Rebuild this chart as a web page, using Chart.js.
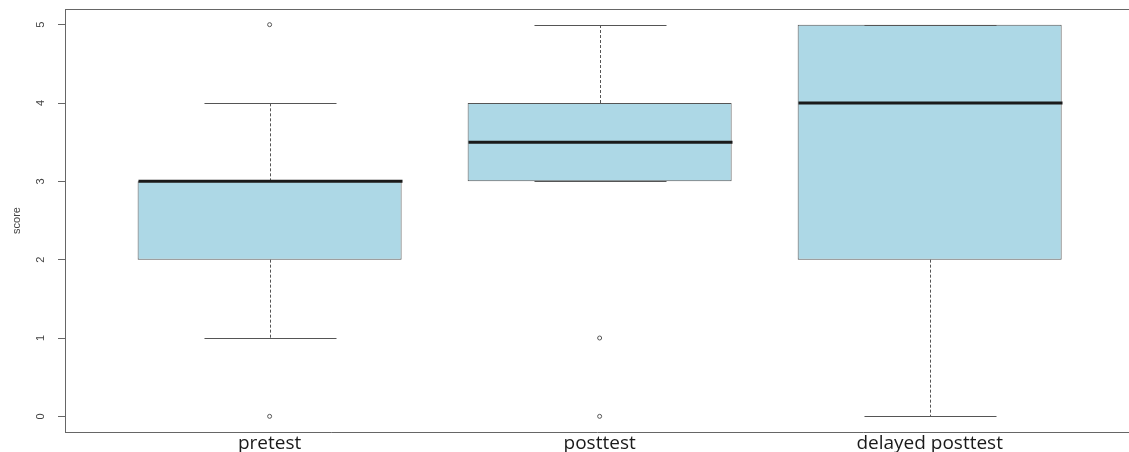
<!DOCTYPE html>
<html>
<head>
<meta charset="utf-8">
<script src="https://cdn.jsdelivr.net/npm/chart.js@4"></script>
<style>
  html, body { margin: 0; padding: 0; background: #fff; overflow: hidden; }
  #wrap { width: 1129px; height: 452px; position: relative; }
</style>
</head>
<body>
<div id="wrap"><canvas id="boxChart"></canvas></div>
<script>
// box plot summary per group
const categories = ['pretest', 'posttest', 'delayed posttest'];
const lowerWhisker = [1, 3, 0];
const q1 = [2, 3, 2];
const median = [3, 3.5, 4];
const q3 = [3, 4, 5];
const upperWhisker = [4, 5, 5];
const outliers = [[0, 5], [0, 1], []];
const yTicks = [0, 1, 2, 3, 4, 5];
const yTitle = 'score';

const boxData = categories.map((c, i) => ({ x: i + 1, y: [q1[i], q3[i]] }));
const outlierData = [];
outliers.forEach((vals, i) => vals.forEach(v => outlierData.push({ x: i + 1, y: v })));

const frameColor = '#666';

// whiskers, caps, medians, top frame line and rotated y labels
const boxExtras = {
  id: 'boxExtras',
  afterDatasetsDraw(chart) {
    const ctx = chart.ctx;
    const xs = chart.scales.x, ys = chart.scales.y;
    const half = xs.getPixelForValue(1.4) - xs.getPixelForValue(1); // box half width
    ctx.save();
    categories.forEach((c, i) => {
      const cx = Math.round(xs.getPixelForValue(i + 1)) + 0.5;
      ctx.strokeStyle = '#555';
      ctx.lineWidth = 1;
      ctx.setLineDash([3, 2]);
      ctx.beginPath();
      if (upperWhisker[i] > q3[i]) {
        ctx.moveTo(cx, ys.getPixelForValue(q3[i]));
        ctx.lineTo(cx, ys.getPixelForValue(upperWhisker[i]));
      }
      if (lowerWhisker[i] < q1[i]) {
        ctx.moveTo(cx, ys.getPixelForValue(q1[i]));
        ctx.lineTo(cx, ys.getPixelForValue(lowerWhisker[i]));
      }
      ctx.stroke();
      ctx.setLineDash([]);
      ctx.beginPath();
      [upperWhisker[i], lowerWhisker[i]].forEach(v => {
        const y = Math.round(ys.getPixelForValue(v)) + 0.5;
        ctx.moveTo(cx - half / 2, y);
        ctx.lineTo(cx + half / 2, y);
      });
      ctx.stroke();
      ctx.strokeStyle = '#1a1a1a';
      ctx.lineWidth = 3;
      ctx.beginPath();
      const my = ys.getPixelForValue(median[i]);
      ctx.moveTo(cx - half, my);
      ctx.lineTo(cx + half, my);
      ctx.stroke();
    });
    ctx.restore();
  },
  afterDraw(chart) {
    const ctx = chart.ctx;
    const a = chart.chartArea, ys = chart.scales.y;
    ctx.save();
    ctx.strokeStyle = frameColor;
    ctx.lineWidth = 1;
    ctx.beginPath();
    ctx.moveTo(a.left, Math.round(a.top) + 0.5);
    ctx.lineTo(a.right, Math.round(a.top) + 0.5);
    ctx.stroke();
    ctx.fillStyle = '#444';
    ctx.font = '11px "Liberation Sans", Arial, sans-serif';
    ctx.textAlign = 'center';
    ctx.textBaseline = 'middle';
    yTicks.forEach(v => {
      ctx.save();
      ctx.translate(41, ys.getPixelForValue(v));
      ctx.rotate(-Math.PI / 2);
      ctx.fillText(String(v), 0, 0);
      ctx.restore();
    });
    ctx.save();
    ctx.translate(17, (a.top + a.bottom) / 2);
    ctx.rotate(-Math.PI / 2);
    ctx.fillText(yTitle, 0, 0);
    ctx.restore();
    ctx.restore();
  }
};

new Chart(document.getElementById('boxChart'), {
  type: 'bar',
  data: {
    datasets: [
      {
        type: 'bar',
        data: boxData,
        backgroundColor: '#ADD8E6',
        borderColor: '#555',
        borderWidth: 1,
        borderSkipped: false,
        barPercentage: 1,
        categoryPercentage: 0.8
      },
      {
        type: 'scatter',
        data: outlierData,
        pointStyle: 'circle',
        pointRadius: 2,
        backgroundColor: 'rgba(0,0,0,0)',
        borderColor: '#555',
        borderWidth: 1
      }
    ]
  },
  options: {
    responsive: true,
    maintainAspectRatio: false,
    animation: false,
    layout: { autoPadding: false, padding: { top: 9, right: 0, left: 0, bottom: 0 } },
    plugins: { legend: { display: false }, tooltip: { enabled: false } },
    scales: {
      x: {
        type: 'linear',
        offset: false,
        min: 0.38,
        max: 3.604,
        afterBuildTicks: s => { s.ticks = categories.map((c, i) => ({ value: i + 1 })); },
        afterFit: s => { s.height = 20; },
        ticks: {
          callback: v => categories[v - 1] || '',
          font: { family: '"Open Sans", "Noto Sans", sans-serif', size: 19 },
          color: '#1a1a1a',
          padding: 0,
          maxRotation: 0,
          autoSkip: false
        },
        grid: { drawOnChartArea: false, drawTicks: false },
        border: { color: frameColor }
      },
      y: {
        min: -0.2,
        max: 5.2,
        afterBuildTicks: s => { s.ticks = yTicks.map(v => ({ value: v })); },
        afterFit: s => { s.width = 65; },
        ticks: { display: false },
        grid: { drawOnChartArea: false, drawTicks: true, tickLength: 7, color: frameColor },
        border: { color: frameColor }
      }
    }
  },
  plugins: [boxExtras]
});
</script>
</body>
</html>
